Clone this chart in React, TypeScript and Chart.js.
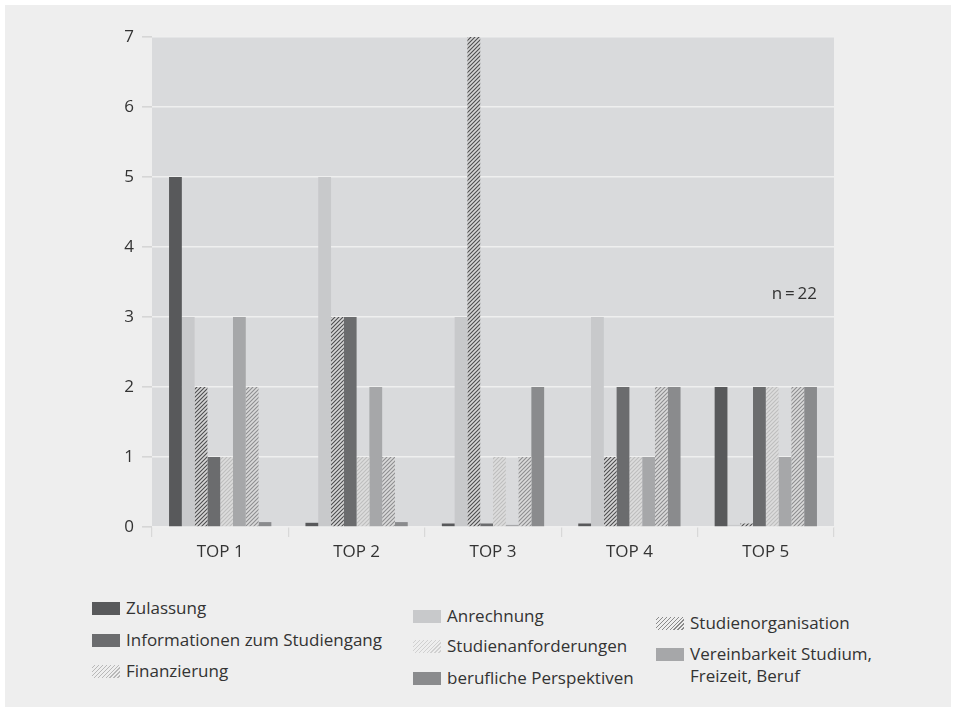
import React, { useEffect, useRef } from "react";
import { Chart, registerables } from "chart.js";

Chart.register(...registerables);

const categories = ["TOP 1", "TOP 2", "TOP 3", "TOP 4", "TOP 5"];
const zulassung = [5, 0.06, 0.05, 0.05, 2];
const anrechnung = [3, 5, 3, 3, 0.03];
const studienorganisation = [2, 3, 7, 1, 0.05];
const informationen = [1, 3, 0.05, 2, 2];
const studienanforderungen = [1, 1, 1, 1, 2];
const vereinbarkeit = [3, 2, 0.03, 1, 1];
const finanzierung = [2, 1, 1, 2, 2];
const beruflich = [0.07, 0.07, 2, 2, 2];
const yTicks = [0, 1, 2, 3, 4, 5, 6, 7];
const sampleNote = "n\u2009=\u200922";

const FONT = "'Open Sans', 'Noto Sans', sans-serif";
const TEXT = "#333333";

function makeHatch(bg: string, fg: string, lw: number): CanvasPattern | string {
  const c = document.createElement("canvas");
  c.width = 4;
  c.height = 4;
  const x = c.getContext("2d");
  if (!x) return fg;
  x.fillStyle = bg;
  x.fillRect(0, 0, 4, 4);
  x.strokeStyle = fg;
  x.lineWidth = lw;
  x.beginPath();
  x.moveTo(0, 4);
  x.lineTo(4, 0);
  x.moveTo(-1, 1);
  x.lineTo(1, -1);
  x.moveTo(3, 5);
  x.lineTo(5, 3);
  x.stroke();
  const p = x.createPattern(c, "repeat");
  return p || fg;
}

const plotBg = {
  id: "plotBg",
  beforeDraw(chart: any) {
    const { ctx, chartArea } = chart;
    ctx.save();
    ctx.fillStyle = "#d9dadc";
    ctx.fillRect(chartArea.left, chartArea.top, chartArea.right - chartArea.left, chartArea.bottom - chartArea.top);
    ctx.restore();
  },
  afterDraw(chart: any) {
    const { ctx, chartArea } = chart;
    ctx.save();
    ctx.fillStyle = TEXT;
    ctx.font = `17px ${FONT}`;
    ctx.textAlign = "right";
    ctx.textBaseline = "middle";
    ctx.fillText(sampleNote, chartArea.right - 17, chartArea.top + 257);
    ctx.restore();
  },
};

const hatchCss = (bg: string, fg: string) =>
  `repeating-linear-gradient(135deg, ${bg} 0px, ${bg} 1.6px, ${fg} 1.6px, ${fg} 2.8px)`;

type LegendItem = { label: string[]; left: number; top: number; swatch: string };

const legendItems: LegendItem[] = [
  { label: ["Zulassung"], left: 92, top: 608, swatch: "#58595b" },
  { label: ["Informationen zum Studiengang"], left: 92, top: 640, swatch: "#6b6c6e" },
  { label: ["Finanzierung"], left: 92, top: 671, swatch: hatchCss("#eeeeee", "#b8b8b8") },
  { label: ["Anrechnung"], left: 413, top: 616, swatch: "#c8c9cb" },
  { label: ["Studienanforderungen"], left: 413, top: 646, swatch: hatchCss("#eeeeee", "#d0d0d0") },
  { label: ["berufliche Perspektiven"], left: 413, top: 678, swatch: "#8a8b8d" },
  { label: ["Studienorganisation"], left: 656, top: 623, swatch: hatchCss("#eeeeee", "#8a8a8a") },
  { label: ["Vereinbarkeit Studium,", "Freizeit, Beruf"], left: 656, top: 654, swatch: "#a6a7a9" },
];

export default function App() {
  const ref = useRef<HTMLCanvasElement | null>(null);

  useEffect(() => {
    if (!ref.current) return;
    const ctx = ref.current.getContext("2d");
    if (!ctx) return;
    const hatchDark = makeHatch("#d6d6d6", "#4d4d4f", 1.1);
    const hatchLight = makeHatch("#dcdcdc", "#bdbdbd", 1.1);
    const hatchMid = makeHatch("#dadada", "#8e8e90", 1.1);

    const chart = new Chart(ctx, {
      type: "bar",
      data: {
        labels: categories,
        datasets: [
          { label: "Zulassung", data: zulassung, backgroundColor: "#58595b" },
          { label: "Anrechnung", data: anrechnung, backgroundColor: "#c8c9cb" },
          { label: "Studienorganisation", data: studienorganisation, backgroundColor: hatchDark as any },
          { label: "Informationen zum Studiengang", data: informationen, backgroundColor: "#6b6c6e" },
          { label: "Studienanforderungen", data: studienanforderungen, backgroundColor: hatchLight as any },
          { label: "Vereinbarkeit Studium, Freizeit, Beruf", data: vereinbarkeit, backgroundColor: "#a6a7a9" },
          { label: "Finanzierung", data: finanzierung, backgroundColor: hatchMid as any },
          { label: "berufliche Perspektiven", data: beruflich, backgroundColor: "#8a8b8d" },
        ],
      },
      options: {
        animation: false,
        responsive: false,
        maintainAspectRatio: false,
        datasets: { bar: { categoryPercentage: 0.75, barPercentage: 1.0, borderWidth: 0 } },
        layout: { padding: { left: 0, right: 122, top: 37, bottom: 0 } },
        plugins: { legend: { display: false }, tooltip: { enabled: false } },
        scales: {
          x: {
            afterFit: (s: any) => {
              s.height = 53;
            },
            grid: {
              offset: true,
              drawOnChartArea: false,
              drawTicks: true,
              tickLength: 10,
              color: "#d8d8d8",
              tickColor: "#d8d8d8",
              lineWidth: 1.2,
            },
            border: { display: false },
            ticks: { color: TEXT, font: { family: FONT, size: 17 }, padding: 5 },
          },
          y: {
            min: 0,
            max: 7,
            afterFit: (s: any) => {
              s.width = 152;
            },
            afterBuildTicks: (s: any) => {
              s.ticks = yTicks.map((v) => ({ value: v }));
            },
            grid: {
              color: "#efefef",
              lineWidth: 1.6,
              drawTicks: true,
              tickLength: 10,
              tickColor: "#d6d6d6",
            },
            border: { display: false },
            ticks: { color: TEXT, font: { family: FONT, size: 17 }, padding: 8 },
          },
        },
      },
      plugins: [plotBg],
    });
    return () => chart.destroy();
  }, []);

  return (
    <div style={{ position: "absolute", left: 0, top: 0, width: 956, height: 712, background: "#ffffff", overflow: "hidden" }}>
      <div style={{ position: "absolute", left: 5, top: 5, width: 946, height: 702, background: "#eeeeee" }} />
      <canvas ref={ref} width={956} height={580} style={{ position: "absolute", left: 0, top: 0, width: 956, height: 580 }} />
      {legendItems.map((it) => (
        <div
          key={it.label.join(" ")}
          style={{
            position: "absolute",
            left: it.left,
            top: it.top - 11,
            display: "flex",
            alignItems: "flex-start",
            fontFamily: FONT,
            fontSize: 17,
            lineHeight: "22px",
            color: TEXT,
            whiteSpace: "nowrap",
          }}
        >
          <div style={{ width: 28, height: 13, marginTop: 4.5, marginRight: 6, background: it.swatch, flex: "none" }} />
          <div>
            {it.label.map((l) => (
              <div key={l}>{l}</div>
            ))}
          </div>
        </div>
      ))}
    </div>
  );
}
